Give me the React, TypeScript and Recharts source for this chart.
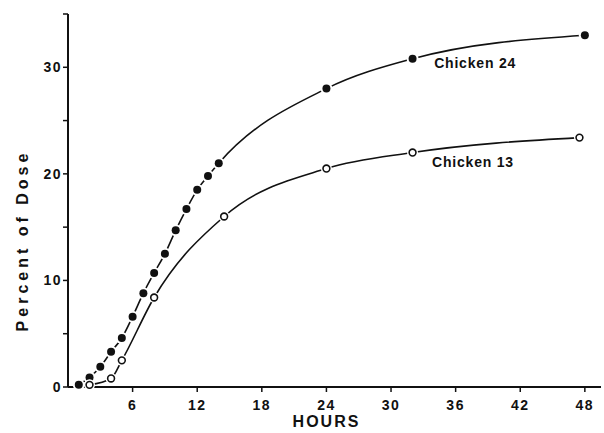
import { LineChart, Line, XAxis, YAxis, ReferenceDot, Label } from "recharts";

// Chicken 24 (filled markers)
const hours24 = [1, 2, 3, 4, 5, 6, 7, 8, 9, 10, 11, 12, 13, 14, 24, 32, 48];
const dose24 = [0.2, 0.9, 1.9, 3.3, 4.6, 6.6, 8.8, 10.7, 12.5, 14.7, 16.7, 18.5, 19.8, 21.0, 28.0, 30.8, 33.0];

// Chicken 13 (open markers)
const hours13 = [2, 4, 5, 8, 14.5, 24, 32, 47.5];
const dose13 = [0.2, 0.8, 2.5, 8.4, 16.0, 20.5, 22.0, 23.4];

const xTicks = [6, 12, 18, 24, 30, 36, 42, 48];
const yTicks = [0, 5, 10, 15, 20, 25, 30, 35];

const curveNames = ["Chicken 24", "Chicken 13"];
const nameHours = [34.1, 33.9];
const nameDose = [30.4, 21.1];

const FONT = "'Liberation Sans', Arial, sans-serif";
const INK = "#111";

const chicken24 = hours24.map((h, i) => ({ hour: h, dose: dose24[i] }));
const chicken13 = hours13.map((h, i) => ({ hour: h, dose: dose13[i] }));

const FilledDot = (props: any) => {
  const { cx, cy, index } = props;
  return (
    <g key={`f-${index}`}>
      <circle cx={cx} cy={cy} r={6} fill="#fff" />
      <circle cx={cx} cy={cy} r={4} fill={INK} />
    </g>
  );
};

const OpenDot = (props: any) => {
  const { cx, cy, index } = props;
  return (
    <g key={`o-${index}`}>
      <circle cx={cx} cy={cy} r={5.5} fill="#fff" />
      <circle cx={cx} cy={cy} r={3.4} fill="#fff" stroke={INK} strokeWidth={1.6} />
    </g>
  );
};

const tickStyle = {
  fontFamily: FONT,
  fontWeight: 700,
  fontSize: 14,
  letterSpacing: 1.5,
  fill: INK,
};

export default function App() {
  return (
    <div style={{ position: "absolute", left: 0, top: 0, background: "#fff" }}>
      <LineChart
        width={604}
        height={433}
        margin={{ top: 14, right: 3, bottom: 0, left: 8 }}
      >
        <XAxis
          dataKey="hour"
          type="number"
          domain={[0, 49.5]}
          ticks={xTicks}
          allowDataOverflow
          height={46}
          stroke={INK}
          strokeWidth={2}
          tickSize={5}
          tickMargin={8}
          tick={tickStyle}
          tickLine={{ stroke: INK, strokeWidth: 1.5 }}
        >
          <Label
            content={({ viewBox }: any) => (
              <text
                x={viewBox.x + viewBox.width / 2 - 8}
                y={viewBox.y + 40}
                textAnchor="middle"
                fontFamily={FONT}
                fontWeight={700}
                fontSize={16}
                letterSpacing={2}
                fill={INK}
              >
                HOURS
              </text>
            )}
          />
        </XAxis>
        <YAxis
          type="number"
          domain={[0, 35]}
          ticks={yTicks}
          width={60}
          stroke={INK}
          strokeWidth={2}
          tickSize={5}
          tickMargin={1}
          tick={tickStyle}
          tickLine={{ stroke: INK, strokeWidth: 1.5 }}
          tickFormatter={(v: number) => (v % 10 === 0 ? String(v) : "")}
        >
          <Label
            content={({ viewBox }: any) => {
              const x = 28;
              const y = viewBox.y + viewBox.height / 2 + 40;
              return (
                <text
                  x={x}
                  y={y}
                  transform={`rotate(-90 ${x} ${y})`}
                  textAnchor="middle"
                  fontFamily={FONT}
                  fontWeight={700}
                  fontSize={16}
                  letterSpacing={4}
                  fill={INK}
                >
                  Percent of Dose
                </text>
              );
            }}
          />
        </YAxis>
        <Line
          data={chicken24}
          dataKey="dose"
          type="monotone"
          stroke={INK}
          strokeWidth={1.6}
          dot={FilledDot}
          activeDot={false}
          isAnimationActive={false}
        />
        <Line
          data={chicken13}
          dataKey="dose"
          type="monotone"
          stroke={INK}
          strokeWidth={1.6}
          dot={OpenDot}
          activeDot={false}
          isAnimationActive={false}
        />
        {curveNames.map((name, i) => (
          <ReferenceDot
            key={name}
            x={nameHours[i]}
            y={nameDose[i]}
            r={1}
            fill="none"
            stroke="none"
            label={{
              content: ({ viewBox }: any) => (
                <text
                  x={viewBox.x}
                  y={viewBox.y + viewBox.height / 2}
                  dy="0.36em"
                  fontFamily={FONT}
                  fontWeight={700}
                  fontSize={14}
                  letterSpacing={0.8}
                  fill={INK}
                >
                  {name}
                </text>
              ),
            }}
          />
        ))}
      </LineChart>
    </div>
  );
}
